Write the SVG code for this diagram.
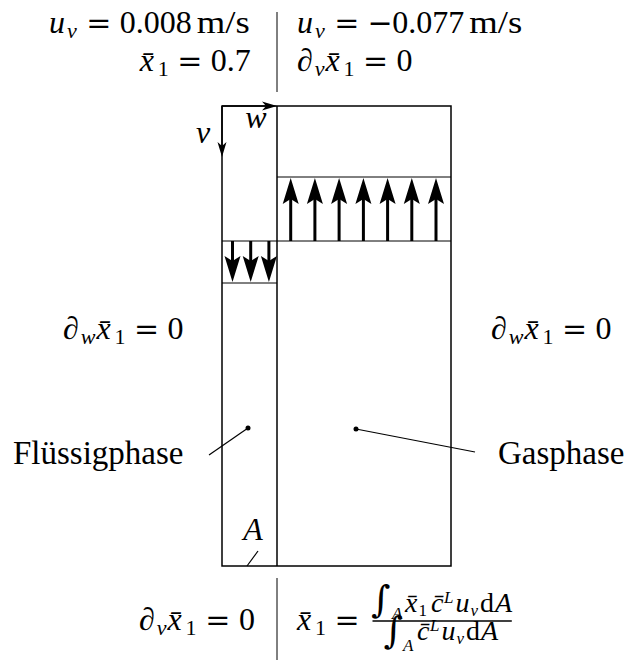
<svg xmlns="http://www.w3.org/2000/svg" xmlns:xlink="http://www.w3.org/1999/xlink" width="627" height="660" viewBox="0 0 627 660">
<style>
text{font-family:"Liberation Serif",serif;fill:#000}
.mi{font-size:32px;font-style:italic}
.mr{font-size:32px}
.si{font-size:22px;font-style:italic}
.sr{font-size:22px}
.eq{font-family:"DejaVu Serif",serif;font-size:30px;text-anchor:middle}
.pd{font-size:32px;font-style:italic}
.fr{font-size:28px}
.fi{font-style:italic}
.fs{font-size:17px}
.int{font-family:"DejaVu Serif",serif;font-size:37px;font-style:normal}
.lbl{font-size:33px}
.thin{stroke:#000;stroke-width:1;fill:none}
.frame{stroke:#000;stroke-width:1.5;fill:none}
.lead{stroke:#000;stroke-width:1.2;fill:none}
.shaft{stroke:#000;stroke-width:3;fill:none}
</style>
<defs>
<path id="bigHead" d="M0,0 L8,26 L0,21 L-8,26 Z" fill="#000"/>
<path id="smallHead" d="M0,0 L-15,-4.5 L-11,0 L-15,4.5 Z" fill="#000"/>
</defs>

<g id="domain">
<rect class="frame" x="222" y="106" width="229" height="460"/>
<line class="frame" x1="277" y1="106" x2="277" y2="566"/>
</g>

<g id="gas-inlet">
<line class="thin" x1="277" y1="177" x2="451" y2="177"/>
<line class="thin" x1="222" y1="241" x2="451" y2="241"/>
<g>
<line class="shaft" x1="290.7" y1="241" x2="290.7" y2="198"/><use xlink:href="#bigHead" x="290.7" y="178"/>
<line class="shaft" x1="314.9" y1="241" x2="314.9" y2="198"/><use xlink:href="#bigHead" x="314.9" y="178"/>
<line class="shaft" x1="339.1" y1="241" x2="339.1" y2="198"/><use xlink:href="#bigHead" x="339.1" y="178"/>
<line class="shaft" x1="363.4" y1="241" x2="363.4" y2="198"/><use xlink:href="#bigHead" x="363.4" y="178"/>
<line class="shaft" x1="387.6" y1="241" x2="387.6" y2="198"/><use xlink:href="#bigHead" x="387.6" y="178"/>
<line class="shaft" x1="411.8" y1="241" x2="411.8" y2="198"/><use xlink:href="#bigHead" x="411.8" y="178"/>
<line class="shaft" x1="436" y1="241" x2="436" y2="198"/><use xlink:href="#bigHead" x="436" y="178"/>
</g>
</g>

<g id="liquid-inlet">
<line class="thin" x1="222" y1="283" x2="277" y2="283"/>
<line class="shaft" x1="232.5" y1="241" x2="232.5" y2="262"/><use xlink:href="#bigHead" transform="translate(232.5,282) rotate(180)"/>
<line class="shaft" x1="250.7" y1="241" x2="250.7" y2="262"/><use xlink:href="#bigHead" transform="translate(250.7,282) rotate(180)"/>
<line class="shaft" x1="268.9" y1="241" x2="268.9" y2="262"/><use xlink:href="#bigHead" transform="translate(268.9,282) rotate(180)"/>
</g>

<g id="axes">
<line class="frame" x1="222" y1="106" x2="266" y2="106"/>
<use xlink:href="#smallHead" x="277" y="106"/>
<line class="frame" x1="222" y1="106" x2="222" y2="146"/>
<use xlink:href="#smallHead" transform="translate(222,157) rotate(90)"/>
<text class="mi" x="203" y="143" text-anchor="middle">v</text>
<text class="mi" x="256" y="128" text-anchor="middle">w</text>
</g>

<g id="separators">
<line class="thin" x1="277" y1="12" x2="277" y2="92"/>
<line class="thin" x1="277" y1="578" x2="277" y2="660"/>
</g>

<g id="top-left-condition">
<text class="mi" x="49" y="33">u</text>
<text class="si" x="67" y="37.7">v</text>
<text class="eq" x="98.7" y="33">=</text>
<text class="mr" x="119.7" y="33">0.008</text>
<text class="mr" x="196.7" y="33" textLength="53" lengthAdjust="spacingAndGlyphs">m/s</text>
<text class="mi" x="139.75" y="71">x&#x304;</text>
<text class="sr" x="157.75" y="75.7">1</text>
<text class="eq" x="189.75" y="71">=</text>
<text class="mr" x="210.75" y="71">0.7</text>
</g>

<g id="top-right-condition">
<text class="mi" x="297" y="33">u</text>
<text class="si" x="315" y="37.7">v</text>
<text class="eq" x="346.7" y="33">=</text>
<text class="eq" x="380" y="33">&#x2212;</text>
<text class="mr" x="392.2" y="33">0.077</text>
<text class="mr" x="469.2" y="33" textLength="53" lengthAdjust="spacingAndGlyphs">m/s</text>
<text class="pd" x="297" y="71">&#x2202;</text>
<text class="si" x="314.8" y="75.7">v</text>
<text class="mi" x="325.5" y="71">x&#x304;</text>
<text class="sr" x="343.5" y="75.7">1</text>
<text class="eq" x="375.5" y="71">=</text>
<text class="mr" x="396.5" y="71">0</text>
</g>

<g id="left-wall-condition">
<text class="pd" x="63" y="339">&#x2202;</text>
<text class="si" x="80.8" y="343.7">w</text>
<text class="mi" x="96.6" y="339">x&#x304;</text>
<text class="sr" x="114.6" y="343.7">1</text>
<text class="eq" x="146.6" y="339">=</text>
<text class="mr" x="167.6" y="339">0</text>
</g>

<g id="right-wall-condition">
<text class="pd" x="491" y="339">&#x2202;</text>
<text class="si" x="508.8" y="343.7">w</text>
<text class="mi" x="524.6" y="339">x&#x304;</text>
<text class="sr" x="542.6" y="343.7">1</text>
<text class="eq" x="574.6" y="339">=</text>
<text class="mr" x="595.6" y="339">0</text>
</g>

<g id="liquid-label">
<text class="lbl" x="13" y="464">Flüssigphase</text>
<line class="lead" x1="248" y1="428" x2="209" y2="455"/>
<circle cx="248" cy="428" r="2.5" fill="#000"/>
</g>

<g id="gas-label">
<text class="lbl" x="498" y="464">Gasphase</text>
<line class="lead" x1="356" y1="429" x2="475" y2="452"/>
<circle cx="356" cy="429" r="2.5" fill="#000"/>
</g>

<g id="outlet-label">
<text class="mi" x="253" y="540" text-anchor="middle">A</text>
<line class="lead" x1="247" y1="566" x2="258" y2="551"/>
</g>

<g id="bottom-left-condition">
<text class="pd" x="139" y="630">&#x2202;</text>
<text class="si" x="156.8" y="634.7">v</text>
<text class="mi" x="167.5" y="630">x&#x304;</text>
<text class="sr" x="185.5" y="634.7">1</text>
<text class="eq" x="217.75" y="630">=</text>
<text class="mr" x="239" y="630">0</text>
</g>

<g id="bottom-right-condition">
<text class="mi" x="297" y="630">x&#x304;</text>
<text class="sr" x="315" y="634.7">1</text>
<text class="eq" x="347" y="630">=</text>
<line x1="372.5" y1="621" x2="511.8" y2="621" stroke="#000" stroke-width="1.3"/>
<text class="fr" y="612"><tspan class="int" x="371" y="612">&#x222B;</tspan><tspan class="fs fi" x="392" y="619">A</tspan><tspan class="fi" x="405" y="612">x&#x304;</tspan><tspan class="fs" x="418.5" y="616">1</tspan><tspan class="fi" x="431" y="612">c&#x304;</tspan><tspan class="fs fi" x="444" y="603">L</tspan><tspan class="fi" x="455.5" y="612">u</tspan><tspan class="fs fi" x="470.5" y="616">v</tspan><tspan x="480" y="612">d</tspan><tspan class="fi" x="495" y="612">A</tspan></text>
<text class="fr" y="640"><tspan class="int" x="383.5" y="643">&#x222B;</tspan><tspan class="fs fi" x="403" y="651">A</tspan><tspan class="fi" x="417" y="640">c&#x304;</tspan><tspan class="fs fi" x="430" y="631">L</tspan><tspan class="fi" x="441.5" y="640">u</tspan><tspan class="fs fi" x="456.5" y="644">v</tspan><tspan x="466" y="640">d</tspan><tspan class="fi" x="481" y="640">A</tspan></text>
</g>
</svg>
